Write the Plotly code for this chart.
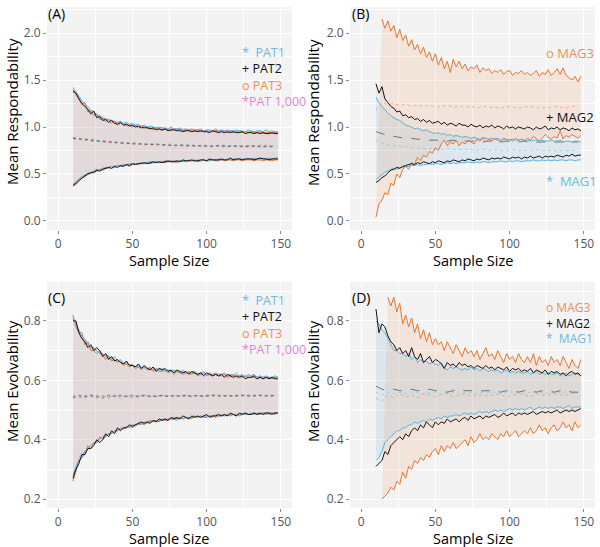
import plotly.graph_objects as go

FONT = "Open Sans"
X2 = list(range(10, 149, 2))   # sample sizes for envelope lines
X4 = list(range(10, 149, 4))   # sample sizes for mean lines
XK = [10, 15, 20, 30, 40, 50, 60, 70, 80, 90, 100, 110, 120, 130, 140, 148]

# ---------------- Panel A : respondability, PAT -----------------
A_pat1_up = [1.42, 1.38, 1.33, 1.28, 1.24, 1.22, 1.18, 1.16, 1.13, 1.12,
             1.10, 1.09, 1.08, 1.07, 1.06, 1.05, 1.06, 1.04, 1.05, 1.03,
             1.04, 1.02, 1.03, 1.01, 1.02, 1.00, 1.01, 1.00, 0.99, 1.00,
             0.99, 0.99, 0.98, 1.00, 0.98, 0.98, 0.99, 0.97, 0.98, 0.97,
             0.98, 0.97, 0.97, 0.98, 0.96, 0.97, 0.97, 0.96, 0.98, 0.96,
             0.97, 0.96, 0.97, 0.96, 0.96, 0.97, 0.96, 0.96, 0.95, 0.97,
             0.96, 0.95, 0.96, 0.96, 0.95, 0.97, 0.95, 0.96, 0.95, 0.95]
A_pat2_up = [1.38, 1.36, 1.30, 1.25, 1.22, 1.19, 1.14, 1.17, 1.10, 1.11,
             1.07, 1.08, 1.05, 1.07, 1.04, 1.03, 1.05, 1.02, 1.03, 1.01,
             1.02, 1.00, 1.01, 0.99, 1.00, 0.99, 0.98, 0.99, 0.97, 0.98,
             0.97, 0.98, 0.96, 0.97, 0.97, 0.96, 0.97, 0.95, 0.96, 0.96,
             0.95, 0.96, 0.95, 0.96, 0.95, 0.95, 0.94, 0.96, 0.95, 0.94,
             0.95, 0.94, 0.95, 0.94, 0.95, 0.94, 0.94, 0.95, 0.93, 0.94,
             0.94, 0.93, 0.94, 0.93, 0.94, 0.93, 0.93, 0.94, 0.93, 0.93]
A_pat3_up = [1.40, 1.35, 1.31, 1.24, 1.26, 1.16, 1.17, 1.12, 1.14, 1.08,
             1.09, 1.06, 1.08, 1.04, 1.06, 1.02, 1.04, 1.03, 1.01, 1.02,
             1.00, 1.02, 0.99, 1.01, 0.98, 1.00, 0.99, 0.97, 0.99, 0.98,
             0.96, 0.98, 0.97, 0.96, 0.98, 0.97, 0.95, 0.97, 0.96, 0.97,
             0.96, 0.95, 0.97, 0.95, 0.96, 0.96, 0.95, 0.95, 0.96, 0.95,
             0.96, 0.95, 0.94, 0.96, 0.94, 0.95, 0.95, 0.94, 0.95, 0.94,
             0.95, 0.94, 0.94, 0.95, 0.93, 0.94, 0.94, 0.93, 0.94, 0.94]
A_pat1_lo = [0.39, 0.41, 0.45, 0.47, 0.49, 0.51, 0.52, 0.53, 0.55, 0.54,
             0.56, 0.57, 0.56, 0.58, 0.58, 0.59, 0.58, 0.60, 0.59, 0.61,
             0.60, 0.61, 0.61, 0.62, 0.61, 0.62, 0.63, 0.62, 0.63, 0.62,
             0.63, 0.64, 0.63, 0.63, 0.64, 0.63, 0.64, 0.64, 0.63, 0.65,
             0.64, 0.64, 0.65, 0.64, 0.65, 0.64, 0.65, 0.65, 0.64, 0.66,
             0.65, 0.65, 0.66, 0.65, 0.66, 0.65, 0.66, 0.66, 0.65, 0.66,
             0.66, 0.67, 0.66, 0.66, 0.67, 0.66, 0.67, 0.66, 0.67, 0.67]
A_pat2_lo = [0.38, 0.40, 0.43, 0.46, 0.48, 0.50, 0.51, 0.52, 0.54, 0.53,
             0.55, 0.56, 0.57, 0.56, 0.58, 0.57, 0.59, 0.58, 0.60, 0.59,
             0.61, 0.60, 0.61, 0.61, 0.62, 0.61, 0.62, 0.63, 0.62, 0.63,
             0.62, 0.63, 0.64, 0.63, 0.63, 0.64, 0.63, 0.65, 0.64, 0.64,
             0.65, 0.64, 0.64, 0.65, 0.65, 0.64, 0.66, 0.65, 0.65, 0.65,
             0.66, 0.65, 0.65, 0.67, 0.65, 0.66, 0.66, 0.65, 0.66, 0.66,
             0.66, 0.65, 0.66, 0.67, 0.66, 0.66, 0.65, 0.66, 0.66, 0.66]
A_pat3_lo = [0.37, 0.39, 0.42, 0.46, 0.47, 0.50, 0.52, 0.51, 0.53, 0.55,
             0.54, 0.56, 0.57, 0.58, 0.57, 0.59, 0.58, 0.59, 0.60, 0.58,
             0.60, 0.61, 0.60, 0.62, 0.61, 0.62, 0.61, 0.62, 0.63, 0.62,
             0.63, 0.62, 0.63, 0.64, 0.63, 0.62, 0.64, 0.63, 0.64, 0.64,
             0.64, 0.65, 0.63, 0.64, 0.65, 0.64, 0.64, 0.65, 0.64, 0.64,
             0.65, 0.64, 0.65, 0.65, 0.64, 0.65, 0.65, 0.64, 0.65, 0.65,
             0.65, 0.64, 0.65, 0.65, 0.64, 0.65, 0.65, 0.64, 0.65, 0.65]
A_pat1_mean = [0.89, 0.88, 0.87, 0.87, 0.86, 0.85, 0.85, 0.84, 0.84, 0.83,
               0.83, 0.83, 0.82, 0.82, 0.82, 0.81, 0.82, 0.81, 0.81, 0.81,
               0.81, 0.80, 0.81, 0.80, 0.80, 0.81, 0.80, 0.80, 0.80, 0.80,
               0.80, 0.80, 0.81, 0.80, 0.80]
A_pat2_mean = [0.88, 0.87, 0.87, 0.86, 0.85, 0.85, 0.84, 0.84, 0.83, 0.83,
               0.82, 0.82, 0.82, 0.81, 0.82, 0.81, 0.81, 0.80, 0.81, 0.80,
               0.80, 0.80, 0.80, 0.79, 0.80, 0.80, 0.79, 0.80, 0.79, 0.79,
               0.80, 0.79, 0.79, 0.79, 0.79]
A_pat3_mean = [0.87, 0.88, 0.86, 0.85, 0.85, 0.84, 0.84, 0.83, 0.83, 0.82,
               0.83, 0.82, 0.81, 0.82, 0.81, 0.81, 0.80, 0.81, 0.80, 0.80,
               0.80, 0.80, 0.79, 0.80, 0.80, 0.79, 0.80, 0.79, 0.80, 0.79,
               0.79, 0.80, 0.79, 0.79, 0.80]
A_k_up = [1.38, 1.26, 1.19, 1.09, 1.05, 1.02, 1.00, 0.99, 0.98, 0.97, 0.96, 0.96, 0.95, 0.95, 0.94, 0.94]
A_k_lo = [0.39, 0.46, 0.50, 0.56, 0.59, 0.61, 0.62, 0.63, 0.64, 0.64, 0.65, 0.65, 0.66, 0.66, 0.66, 0.66]
A_k_mean = [0.88, 0.87, 0.86, 0.84, 0.83, 0.82, 0.81, 0.81, 0.80, 0.80, 0.80, 0.80, 0.80, 0.80, 0.80, 0.80]

# ---------------- Panel B : respondability, MAG -----------------
B_mag1_up = [1.32, 1.26, 1.22, 1.18, 1.15, 1.12, 1.10, 1.08, 1.07, 1.04,
             1.02, 1.01, 1.00, 0.98, 0.99, 0.97, 0.96, 0.97, 0.95, 0.94,
             0.93, 0.94, 0.92, 0.93, 0.91, 0.92, 0.90, 0.91, 0.90, 0.89,
             0.90, 0.89, 0.88, 0.89, 0.88, 0.87, 0.89, 0.88, 0.87, 0.88,
             0.87, 0.88, 0.86, 0.87, 0.87, 0.86, 0.87, 0.86, 0.86, 0.87,
             0.86, 0.86, 0.85, 0.86, 0.86, 0.85, 0.86, 0.85, 0.85, 0.86,
             0.85, 0.85, 0.86, 0.84, 0.85, 0.85, 0.84, 0.85, 0.85, 0.84]
B_mag1_lo = [0.44, 0.47, 0.50, 0.52, 0.53, 0.55, 0.56, 0.55, 0.57, 0.57,
             0.58, 0.58, 0.59, 0.59, 0.60, 0.59, 0.60, 0.60, 0.61, 0.60,
             0.61, 0.61, 0.60, 0.61, 0.62, 0.61, 0.62, 0.61, 0.62, 0.62,
             0.62, 0.63, 0.62, 0.62, 0.63, 0.62, 0.63, 0.63, 0.62, 0.63,
             0.63, 0.63, 0.64, 0.63, 0.63, 0.64, 0.63, 0.64, 0.64, 0.63,
             0.64, 0.64, 0.64, 0.65, 0.64, 0.64, 0.65, 0.64, 0.65, 0.64,
             0.65, 0.64, 0.65, 0.65, 0.64, 0.65, 0.65, 0.64, 0.65, 0.65]
B_mag2_up = [1.46, 1.36, 1.43, 1.30, 1.26, 1.22, 1.20, 1.16, 1.17, 1.12,
             1.13, 1.10, 1.11, 1.08, 1.09, 1.06, 1.08, 1.05, 1.07, 1.04,
             1.05, 1.06, 1.03, 1.05, 1.02, 1.04, 1.03, 1.01, 1.04, 1.02,
             1.02, 1.00, 1.03, 1.01, 1.00, 1.02, 0.99, 1.01, 1.00, 1.02,
             0.99, 1.01, 1.00, 0.98, 1.01, 0.99, 1.00, 0.98, 1.00, 0.99,
             0.98, 1.00, 0.99, 0.97, 1.00, 0.98, 0.99, 1.01, 0.97, 0.99,
             0.98, 1.00, 0.97, 0.99, 0.98, 0.96, 0.99, 0.97, 0.98, 0.96]
B_mag2_lo = [0.41, 0.43, 0.46, 0.48, 0.51, 0.54, 0.55, 0.57, 0.56, 0.58,
             0.59, 0.60, 0.61, 0.60, 0.62, 0.61, 0.63, 0.62, 0.61, 0.63,
             0.62, 0.64, 0.63, 0.62, 0.64, 0.63, 0.65, 0.64, 0.63, 0.65,
             0.64, 0.66, 0.65, 0.64, 0.66, 0.65, 0.67, 0.66, 0.65, 0.67,
             0.66, 0.67, 0.66, 0.68, 0.67, 0.66, 0.68, 0.67, 0.68, 0.66,
             0.68, 0.67, 0.69, 0.67, 0.68, 0.69, 0.67, 0.69, 0.68, 0.69,
             0.68, 0.70, 0.69, 0.68, 0.70, 0.69, 0.71, 0.69, 0.70, 0.70]
B_mag3_up = [None, None, 2.15, 2.05, 2.13, 2.02, 2.08, 1.95, 2.04, 1.92,
             1.98, 1.86, 1.93, 1.82, 1.88, 1.78, 1.85, 1.74, 1.80, 1.70,
             1.78, 1.66, 1.74, 1.62, 1.70, 1.58, 1.72, 1.64, 1.70, 1.62,
             1.67, 1.60, 1.64, 1.62, 1.66, 1.58, 1.63, 1.60, 1.62, 1.57,
             1.60, 1.58, 1.61, 1.56, 1.59, 1.60, 1.55, 1.58, 1.57, 1.60,
             1.56, 1.58, 1.55, 1.57, 1.60, 1.54, 1.58, 1.56, 1.61, 1.55,
             1.58, 1.62, 1.56, 1.63, 1.55, 1.52, 1.50, 1.54, 1.48, 1.54]
B_mag3_lo = [0.04, 0.18, 0.22, 0.30, 0.28, 0.40, 0.38, 0.50, 0.46, 0.55,
             0.58, 0.55, 0.62, 0.60, 0.68, 0.64, 0.70, 0.68, 0.74, 0.72,
             0.78, 0.75, 0.82, 0.86, 0.80, 0.84, 0.82, 0.86, 0.80, 0.84,
             0.82, 0.86, 0.84, 0.82, 0.87, 0.85, 0.88, 0.84, 0.87, 0.85,
             0.88, 0.86, 0.84, 0.88, 0.86, 0.87, 0.85, 0.88, 0.86, 0.87,
             0.85, 0.88, 0.86, 0.90, 0.87, 0.85, 0.88, 0.92, 0.89, 0.87,
             0.90, 0.88, 0.96, 0.87, 0.91, 0.89, 0.92, 0.90, 0.88, 0.91]
B_mag1_mean = [0.86, 0.83, 0.81, 0.80, 0.79, 0.79, 0.78, 0.78, 0.77, 0.77,
               0.77, 0.76, 0.77, 0.76, 0.76, 0.76, 0.76, 0.75, 0.76, 0.75,
               0.76, 0.75, 0.75, 0.76, 0.75, 0.75, 0.75, 0.76, 0.75, 0.75,
               0.75, 0.75, 0.75, 0.75, 0.75]
B_mag2_mean = [0.95, 0.93, 0.91, 0.90, 0.89, 0.88, 0.88, 0.87, 0.87, 0.86,
               0.86, 0.86, 0.85, 0.86, 0.85, 0.85, 0.85, 0.85, 0.84, 0.85,
               0.85, 0.84, 0.85, 0.84, 0.84, 0.85, 0.84, 0.84, 0.84, 0.84,
               0.84, 0.84, 0.84, 0.84, 0.84]
B_mag3_mean = [1.18, 1.26, 1.24, 1.25, 1.23, 1.24, 1.22, 1.23, 1.22, 1.23,
               1.21, 1.22, 1.23, 1.21, 1.22, 1.21, 1.22, 1.20, 1.22, 1.21,
               1.21, 1.20, 1.22, 1.21, 1.20, 1.21, 1.22, 1.20, 1.21, 1.20,
               1.22, 1.21, 1.20, 1.22, 1.22]

# ---------------- Panel C : evolvability, PAT -----------------
C_pat1_up = [0.81, 0.79, 0.77, 0.75, 0.74, 0.72, 0.71, 0.71, 0.70, 0.69,
             0.69, 0.68, 0.685, 0.67, 0.68, 0.665, 0.67, 0.655, 0.66, 0.65,
             0.655, 0.645, 0.65, 0.64, 0.645, 0.64, 0.645, 0.635, 0.64, 0.635,
             0.64, 0.63, 0.635, 0.63, 0.635, 0.63, 0.625, 0.635, 0.625, 0.63,
             0.625, 0.63, 0.62, 0.625, 0.63, 0.62, 0.625, 0.62, 0.625, 0.62,
             0.62, 0.625, 0.615, 0.62, 0.615, 0.625, 0.615, 0.62, 0.61, 0.62,
             0.615, 0.62, 0.61, 0.615, 0.61, 0.615, 0.61, 0.61, 0.615, 0.61]
C_pat2_up = [0.80, 0.80, 0.76, 0.74, 0.73, 0.71, 0.72, 0.70, 0.71, 0.70,
             0.68, 0.69, 0.67, 0.68, 0.665, 0.67, 0.66, 0.655, 0.665, 0.65,
             0.65, 0.645, 0.655, 0.64, 0.65, 0.64, 0.635, 0.645, 0.63, 0.64,
             0.635, 0.64, 0.63, 0.635, 0.625, 0.635, 0.63, 0.625, 0.63, 0.62,
             0.63, 0.625, 0.62, 0.625, 0.615, 0.625, 0.62, 0.615, 0.62, 0.615,
             0.62, 0.61, 0.62, 0.615, 0.61, 0.615, 0.61, 0.615, 0.605, 0.61,
             0.61, 0.615, 0.605, 0.61, 0.605, 0.61, 0.605, 0.61, 0.605, 0.605]
C_pat3_up = [0.82, 0.78, 0.76, 0.76, 0.72, 0.73, 0.70, 0.70, 0.69, 0.70,
             0.685, 0.67, 0.68, 0.665, 0.67, 0.66, 0.665, 0.65, 0.655, 0.645,
             0.65, 0.64, 0.645, 0.635, 0.645, 0.635, 0.64, 0.63, 0.635, 0.63,
             0.63, 0.635, 0.625, 0.63, 0.62, 0.63, 0.625, 0.62, 0.625, 0.625,
             0.62, 0.625, 0.615, 0.62, 0.625, 0.615, 0.62, 0.615, 0.62, 0.615,
             0.615, 0.62, 0.61, 0.615, 0.62, 0.61, 0.615, 0.61, 0.615, 0.61,
             0.61, 0.61, 0.605, 0.615, 0.605, 0.61, 0.61, 0.605, 0.61, 0.61]
C_pat1_lo = [0.28, 0.31, 0.33, 0.34, 0.36, 0.37, 0.38, 0.39, 0.39, 0.40,
             0.41, 0.41, 0.42, 0.42, 0.43, 0.43, 0.44, 0.435, 0.445, 0.44,
             0.45, 0.445, 0.455, 0.45, 0.46, 0.455, 0.46, 0.465, 0.46, 0.465,
             0.465, 0.47, 0.465, 0.47, 0.47, 0.465, 0.475, 0.47, 0.475, 0.47,
             0.475, 0.48, 0.475, 0.48, 0.475, 0.48, 0.48, 0.475, 0.485, 0.48,
             0.48, 0.485, 0.48, 0.485, 0.485, 0.48, 0.485, 0.49, 0.485, 0.485,
             0.49, 0.485, 0.49, 0.485, 0.49, 0.49, 0.485, 0.49, 0.49, 0.49]
C_pat2_lo = [0.27, 0.30, 0.32, 0.35, 0.35, 0.37, 0.37, 0.38, 0.40, 0.39,
             0.40, 0.42, 0.41, 0.43, 0.42, 0.44, 0.43, 0.44, 0.44, 0.45,
             0.445, 0.45, 0.455, 0.46, 0.455, 0.46, 0.455, 0.465, 0.46, 0.47,
             0.465, 0.47, 0.465, 0.475, 0.47, 0.475, 0.47, 0.48, 0.475, 0.47,
             0.48, 0.475, 0.48, 0.475, 0.48, 0.485, 0.475, 0.48, 0.48, 0.485,
             0.48, 0.485, 0.48, 0.49, 0.485, 0.48, 0.49, 0.485, 0.49, 0.485,
             0.485, 0.49, 0.485, 0.49, 0.485, 0.49, 0.49, 0.485, 0.49, 0.49]
C_pat3_lo = [0.26, 0.30, 0.33, 0.34, 0.35, 0.38, 0.37, 0.39, 0.39, 0.41,
             0.40, 0.41, 0.42, 0.42, 0.43, 0.43, 0.435, 0.44, 0.44, 0.445,
             0.44, 0.45, 0.45, 0.455, 0.45, 0.46, 0.465, 0.46, 0.465, 0.46,
             0.47, 0.465, 0.47, 0.47, 0.475, 0.47, 0.475, 0.47, 0.475, 0.475,
             0.47, 0.48, 0.475, 0.48, 0.475, 0.475, 0.48, 0.48, 0.475, 0.48,
             0.485, 0.48, 0.485, 0.48, 0.485, 0.485, 0.48, 0.485, 0.49, 0.485,
             0.485, 0.49, 0.485, 0.485, 0.49, 0.485, 0.49, 0.49, 0.485, 0.49]
C_pat1_mean = [0.545, 0.54, 0.55, 0.545, 0.54, 0.55, 0.545, 0.55, 0.54, 0.545,
               0.545, 0.55, 0.545, 0.545, 0.55, 0.545, 0.55, 0.545, 0.55, 0.545,
               0.55, 0.545, 0.55, 0.55, 0.545, 0.55, 0.545, 0.55, 0.55, 0.545,
               0.55, 0.55, 0.545, 0.55, 0.55]
C_pat2_mean = [0.54, 0.55, 0.545, 0.55, 0.545, 0.54, 0.55, 0.545, 0.55, 0.545,
               0.55, 0.545, 0.55, 0.545, 0.545, 0.55, 0.545, 0.55, 0.545, 0.55,
               0.545, 0.55, 0.545, 0.55, 0.55, 0.545, 0.55, 0.545, 0.55, 0.55,
               0.545, 0.55, 0.55, 0.545, 0.55]
C_pat3_mean = [0.55, 0.545, 0.54, 0.55, 0.55, 0.545, 0.54, 0.55, 0.545, 0.55,
               0.54, 0.545, 0.55, 0.55, 0.545, 0.55, 0.545, 0.545, 0.55, 0.55,
               0.545, 0.55, 0.545, 0.545, 0.55, 0.55, 0.545, 0.55, 0.545, 0.55,
               0.55, 0.545, 0.55, 0.55, 0.545]
C_k_up = [0.81, 0.75, 0.72, 0.685, 0.665, 0.65, 0.64, 0.635, 0.63, 0.625, 0.62, 0.62, 0.615, 0.615, 0.61, 0.61]
C_k_lo = [0.28, 0.35, 0.37, 0.41, 0.435, 0.45, 0.46, 0.465, 0.47, 0.475, 0.48, 0.48, 0.485, 0.485, 0.49, 0.49]
C_k_mean = [0.545, 0.545, 0.545, 0.547, 0.547, 0.547, 0.548, 0.548, 0.548, 0.548, 0.548, 0.549, 0.549, 0.549, 0.549, 0.549]

# ---------------- Panel D : evolvability, MAG -----------------
D_mag1_up = [0.80, 0.79, 0.77, 0.76, 0.74, 0.72, 0.70, 0.70, 0.69, 0.69,
             0.68, 0.69, 0.67, 0.68, 0.66, 0.67, 0.66, 0.665, 0.655, 0.66,
             0.655, 0.65, 0.66, 0.64, 0.635, 0.645, 0.64, 0.645, 0.64, 0.635,
             0.64, 0.635, 0.645, 0.635, 0.64, 0.63, 0.64, 0.635, 0.63, 0.635,
             0.63, 0.635, 0.625, 0.63, 0.635, 0.625, 0.63, 0.625, 0.63, 0.625,
             0.625, 0.63, 0.62, 0.625, 0.63, 0.62, 0.625, 0.62, 0.625, 0.62,
             0.62, 0.625, 0.615, 0.62, 0.625, 0.615, 0.62, 0.625, 0.62, 0.615]
D_mag2_up = [0.84, 0.76, 0.79, 0.78, 0.75, 0.73, 0.72, 0.70, 0.71, 0.69,
             0.70, 0.68, 0.71, 0.68, 0.67, 0.69, 0.66, 0.67, 0.68, 0.66,
             0.67, 0.665, 0.655, 0.64, 0.66, 0.65, 0.655, 0.645, 0.66, 0.65,
             0.655, 0.645, 0.65, 0.64, 0.65, 0.645, 0.64, 0.65, 0.64, 0.645,
             0.635, 0.645, 0.64, 0.635, 0.645, 0.63, 0.64, 0.635, 0.64, 0.63,
             0.635, 0.63, 0.64, 0.625, 0.635, 0.63, 0.625, 0.635, 0.62, 0.63,
             0.625, 0.63, 0.62, 0.625, 0.615, 0.625, 0.63, 0.62, 0.625, 0.615]
D_mag3_up = [None, None, None, None, 0.88, 0.85, 0.88, 0.83, 0.86, 0.79,
             0.82, 0.78, 0.81, 0.76, 0.79, 0.74, 0.77, 0.73, 0.76, 0.72,
             0.74, 0.72, 0.73, 0.70, 0.73, 0.71, 0.69, 0.72, 0.70, 0.68,
             0.71, 0.69, 0.70, 0.68, 0.70, 0.67, 0.69, 0.71, 0.68, 0.69,
             0.67, 0.70, 0.68, 0.66, 0.69, 0.67, 0.68, 0.66, 0.69, 0.67,
             0.66, 0.68, 0.66, 0.69, 0.65, 0.68, 0.66, 0.67, 0.65, 0.68,
             0.66, 0.67, 0.65, 0.68, 0.66, 0.64, 0.67, 0.65, 0.64, 0.67]
D_mag1_lo = [0.33, 0.34, 0.36, 0.39, 0.40, 0.41, 0.42, 0.43, 0.43, 0.44,
             0.44, 0.45, 0.45, 0.46, 0.455, 0.46, 0.465, 0.46, 0.47, 0.465,
             0.47, 0.475, 0.47, 0.48, 0.475, 0.48, 0.48, 0.485, 0.48, 0.485,
             0.49, 0.485, 0.49, 0.485, 0.49, 0.495, 0.49, 0.495, 0.49, 0.495,
             0.50, 0.495, 0.50, 0.495, 0.50, 0.505, 0.50, 0.505, 0.50, 0.505,
             0.50, 0.505, 0.51, 0.50, 0.505, 0.51, 0.505, 0.51, 0.505, 0.51,
             0.505, 0.51, 0.51, 0.505, 0.51, 0.515, 0.505, 0.51, 0.51, 0.51]
D_mag2_lo = [0.31, 0.32, 0.33, 0.36, 0.35, 0.38, 0.39, 0.40, 0.41, 0.40,
             0.42, 0.41, 0.43, 0.44, 0.43, 0.45, 0.44, 0.46, 0.45, 0.44,
             0.46, 0.45, 0.46, 0.455, 0.47, 0.46, 0.465, 0.47, 0.46, 0.47,
             0.475, 0.465, 0.48, 0.47, 0.475, 0.48, 0.47, 0.48, 0.475, 0.48,
             0.485, 0.475, 0.48, 0.49, 0.48, 0.485, 0.49, 0.48, 0.49, 0.485,
             0.49, 0.485, 0.49, 0.495, 0.485, 0.49, 0.495, 0.49, 0.495, 0.49,
             0.495, 0.50, 0.49, 0.495, 0.50, 0.495, 0.50, 0.495, 0.50, 0.505]
D_mag3_lo = [None, None, 0.20, 0.21, 0.22, 0.24, 0.23, 0.26, 0.25, 0.29,
             0.27, 0.31, 0.30, 0.33, 0.32, 0.34, 0.33, 0.35, 0.34, 0.36,
             0.37, 0.35, 0.38, 0.36, 0.38, 0.37, 0.39, 0.37, 0.38, 0.39,
             0.40, 0.38, 0.41, 0.39, 0.40, 0.42, 0.40, 0.41, 0.40, 0.42,
             0.41, 0.40, 0.42, 0.41, 0.43, 0.41, 0.42, 0.43, 0.41, 0.42,
             0.43, 0.42, 0.44, 0.42, 0.43, 0.45, 0.43, 0.44, 0.42, 0.44,
             0.45, 0.43, 0.44, 0.46, 0.44, 0.45, 0.43, 0.46, 0.44, 0.45]
D_mag1_mean = [0.56, 0.55, 0.56, 0.555, 0.56, 0.555, 0.56, 0.56, 0.555, 0.56,
               0.56, 0.555, 0.56, 0.56, 0.555, 0.56, 0.56, 0.555, 0.56, 0.56,
               0.56, 0.555, 0.56, 0.56, 0.56, 0.555, 0.56, 0.56, 0.56, 0.555,
               0.56, 0.56, 0.56, 0.56, 0.56]
D_mag2_mean = [0.58, 0.57, 0.565, 0.57, 0.565, 0.565, 0.57, 0.565, 0.565, 0.57,
               0.565, 0.565, 0.56, 0.565, 0.57, 0.565, 0.565, 0.56, 0.565, 0.565,
               0.565, 0.56, 0.565, 0.565, 0.56, 0.565, 0.565, 0.56, 0.565, 0.565,
               0.56, 0.565, 0.565, 0.56, 0.56]
D_mag3_mean = [0.54, 0.53, 0.55, 0.54, 0.555, 0.545, 0.55, 0.54, 0.555, 0.55,
               0.545, 0.55, 0.555, 0.545, 0.55, 0.555, 0.545, 0.55, 0.55, 0.545,
               0.555, 0.55, 0.545, 0.55, 0.555, 0.55, 0.545, 0.555, 0.55, 0.55,
               0.555, 0.55, 0.55, 0.555, 0.555]

BLUE, BLACK, ORANGE, PINK = "#5AB1E0", "#111111", "#E5772F", "#E07FD0"

fig = go.Figure()
ribbons, means, lines = [], [], []


def clean(xs, ys):
    px_ = [x for x, v in zip(xs, ys) if v is not None]
    py_ = [v for v in ys if v is not None]
    return px_, py_


def group(ax, xs, up, lo, xm, mean, col, fill, mcol, mdash, lop=1.0):
    xa, ya = ax
    assert len(xs) == len(up) == len(lo), (len(xs), len(up), len(lo))
    assert len(xm) == len(mean), (len(xm), len(mean))
    ux, uy = clean(xs, up)
    lx, ly = clean(xs, lo)
    ribbons.append(go.Scatter(x=ux + lx[::-1], y=uy + ly[::-1], fill="toself", fillcolor=fill,
                              mode="lines", line=dict(width=0), hoverinfo="skip",
                              xaxis=xa, yaxis=ya, showlegend=False))
    means.append(go.Scatter(x=xm, y=mean, mode="lines", line=dict(color=mcol, width=1, dash=mdash),
                            xaxis=xa, yaxis=ya, showlegend=False))
    for qx, qy in ((ux, uy), (lx, ly)):
        lines.append(go.Scatter(x=qx, y=qy, mode="lines", line=dict(color=col, width=1),
                                opacity=lop, xaxis=xa, yaxis=ya, showlegend=False))


AX = {"A": ("x", "y"), "B": ("x2", "y2"), "C": ("x3", "y3"), "D": ("x4", "y4")}

# Panel A
group(AX["A"], XK, A_k_up, A_k_lo, XK, A_k_mean, PINK, "rgba(224,127,208,0.05)", "rgba(224,127,208,0.6)", "dot", 0.6)
group(AX["A"], X2, A_pat3_up, A_pat3_lo, X4, A_pat3_mean, ORANGE, "rgba(229,119,47,0.08)", "rgba(229,119,47,0.6)", "dot")
group(AX["A"], X2, A_pat1_up, A_pat1_lo, X4, A_pat1_mean, BLUE, "rgba(90,177,224,0.04)", "rgba(90,177,224,0.7)", "dot")
group(AX["A"], X2, A_pat2_up, A_pat2_lo, X4, A_pat2_mean, BLACK, "rgba(0,0,0,0.03)", "rgba(60,60,60,0.6)", "dot")
# Panel B
group(AX["B"], X2, B_mag3_up, B_mag3_lo, X4, B_mag3_mean, ORANGE, "rgba(240,130,60,0.13)", "rgba(236,160,110,0.8)", "dot")
group(AX["B"], X2, B_mag1_up, B_mag1_lo, X4, B_mag1_mean, BLUE, "rgba(90,177,224,0.11)", "rgba(150,205,235,0.9)", "dot")
group(AX["B"], X2, B_mag2_up, B_mag2_lo, X4, B_mag2_mean, BLACK, "rgba(0,0,0,0.02)", "rgba(90,90,90,0.8)", "dash")
# Panel C
group(AX["C"], XK, C_k_up, C_k_lo, XK, C_k_mean, PINK, "rgba(224,127,208,0.05)", "rgba(224,127,208,0.6)", "dot", 0.6)
group(AX["C"], X2, C_pat3_up, C_pat3_lo, X4, C_pat3_mean, ORANGE, "rgba(229,119,47,0.08)", "rgba(229,119,47,0.6)", "dot")
group(AX["C"], X2, C_pat1_up, C_pat1_lo, X4, C_pat1_mean, BLUE, "rgba(90,177,224,0.04)", "rgba(90,177,224,0.7)", "dot")
group(AX["C"], X2, C_pat2_up, C_pat2_lo, X4, C_pat2_mean, BLACK, "rgba(0,0,0,0.03)", "rgba(60,60,60,0.6)", "dot")
# Panel D
group(AX["D"], X2, D_mag3_up, D_mag3_lo, X4, D_mag3_mean, ORANGE, "rgba(240,130,60,0.13)", "rgba(236,160,110,0.8)", "dot")
group(AX["D"], X2, D_mag1_up, D_mag1_lo, X4, D_mag1_mean, BLUE, "rgba(90,177,224,0.11)", "rgba(150,205,235,0.9)", "dot")
group(AX["D"], X2, D_mag2_up, D_mag2_lo, X4, D_mag2_mean, BLACK, "rgba(0,0,0,0.02)", "rgba(90,90,90,0.8)", "dash")

for t in ribbons + means + lines:
    fig.add_trace(t)

W, H = 600, 547
XL = [47 / W, 292 / W]
XR = [350 / W, 595 / W]
YT = [1 - 230 / H, 1 - 7 / H]
YB = [1 - 508 / H, 1 - 282 / H]


def xaxis(dom, anchor):
    return dict(domain=dom, anchor=anchor, range=[-7.5, 157.5], tickvals=[0, 50, 100, 150],
                showgrid=True, gridcolor="white", gridwidth=1.2, zeroline=False, showline=False,
                ticks="outside", ticklen=3, tickcolor="#8a8a8a", tickfont=dict(family=FONT, size=12, color="#555"),
                minor=dict(dtick=25, tick0=0, showgrid=True, gridcolor="white", gridwidth=0.6),
                automargin=False, fixedrange=True)


def yaxis(dom, anchor, rng, tv, tt, mdt, m0):
    return dict(domain=dom, anchor=anchor, range=rng, tickvals=tv, ticktext=tt,
                showgrid=True, gridcolor="white", gridwidth=1.2, zeroline=False, showline=False,
                ticks="outside", ticklen=3, tickcolor="#8a8a8a", tickfont=dict(family=FONT, size=12, color="#555"),
                minor=dict(dtick=mdt, tick0=m0, showgrid=True, gridcolor="white", gridwidth=0.6),
                automargin=False, fixedrange=True)


R_RNG, E_RNG = [-0.096, 2.277], [0.170, 0.931]
R_TV, R_TT = [0, 0.5, 1.0, 1.5, 2.0], ["0.0", "0.5", "1.0", "1.5", "2.0"]
E_TV, E_TT = [0.2, 0.4, 0.6, 0.8], ["0.2", "0.4", "0.6", "0.8"]

fig.update_layout(
    width=W, height=H, margin=dict(l=0, r=0, t=0, b=0),
    paper_bgcolor="white", plot_bgcolor="#F3F3F3", showlegend=False,
    font=dict(family=FONT),
    xaxis=xaxis(XL, "y"), yaxis=yaxis(YT, "x", R_RNG, R_TV, R_TT, 0.25, 0),
    xaxis2=xaxis(XR, "y2"), yaxis2=yaxis(YT, "x2", R_RNG, R_TV, R_TT, 0.25, 0),
    xaxis3=xaxis(XL, "y3"), yaxis3=yaxis(YB, "x3", E_RNG, E_TV, E_TT, 0.1, 0.2),
    xaxis4=xaxis(XR, "y4"), yaxis4=yaxis(YB, "x4", E_RNG, E_TV, E_TT, 0.1, 0.2),
)


def txt(x, y, text, color="black", size=13, xanchor="left", angle=0):
    fig.add_annotation(x=x / W, y=1 - y / H, xref="paper", yref="paper", text=text, showarrow=False,
                       xanchor=xanchor, yanchor="middle", textangle=angle, align="left", borderpad=0,
                       font=dict(family=FONT, size=size, color=color))


def span(color, s):
    return f"<span style='color:{color}'>{s}</span>"


# panel tags
txt(47, 13, "(A)", size=14)
txt(351, 13, "(B)", size=14)
txt(47, 298, "(C)", size=14)
txt(351, 298, "(D)", size=14)

# axis titles
for xc, yc, ttl in ((12, 112, "Mean Respondability"), (313, 112, "Mean Respondability"),
                    (12, 381, "Mean Evolvability"), (313, 381, "Mean Evolvability")):
    txt(xc, yc, ttl, size=15, xanchor="center", angle=-90)
txt(169.5, 260.5, "Sample Size", size=14.5, xanchor="center")
txt(472.5, 260.5, "Sample Size", size=14.5, xanchor="center")
txt(169.5, 538.5, "Sample Size", size=14.5, xanchor="center")
txt(472.5, 538.5, "Sample Size", size=14.5, xanchor="center")

# in-panel legends (one multi-line block each)
LBLUE, LORANGE, LPINK = "#6DBAE3", "#E8915A", "#E584D3"
PAT_LEG = "<br>".join([span(LBLUE, "*  PAT1"), span(BLACK, "+ PAT2"),
                       span(LORANGE, "o PAT3"), span(LPINK, "*PAT 1,000")])
txt(241, 77, PAT_LEG, size=12.5)
txt(241, 325, PAT_LEG, size=12.5)
txt(545, 53, "o MAG3", LORANGE)
txt(545, 117, "+ MAG2", BLACK)
txt(545, 181, "*  MAG1", LBLUE)
MAG_LEG = "<br>".join([span(LORANGE, "o MAG3"), span(BLACK, "+ MAG2"), span(LBLUE, "*  MAG1")])
txt(545, 323, MAG_LEG, size=12)

fig.write_html("out.html", config={"displayModeBar": False},
               post_script="document.body.style.margin='0px';document.body.style.overflow='hidden';")
